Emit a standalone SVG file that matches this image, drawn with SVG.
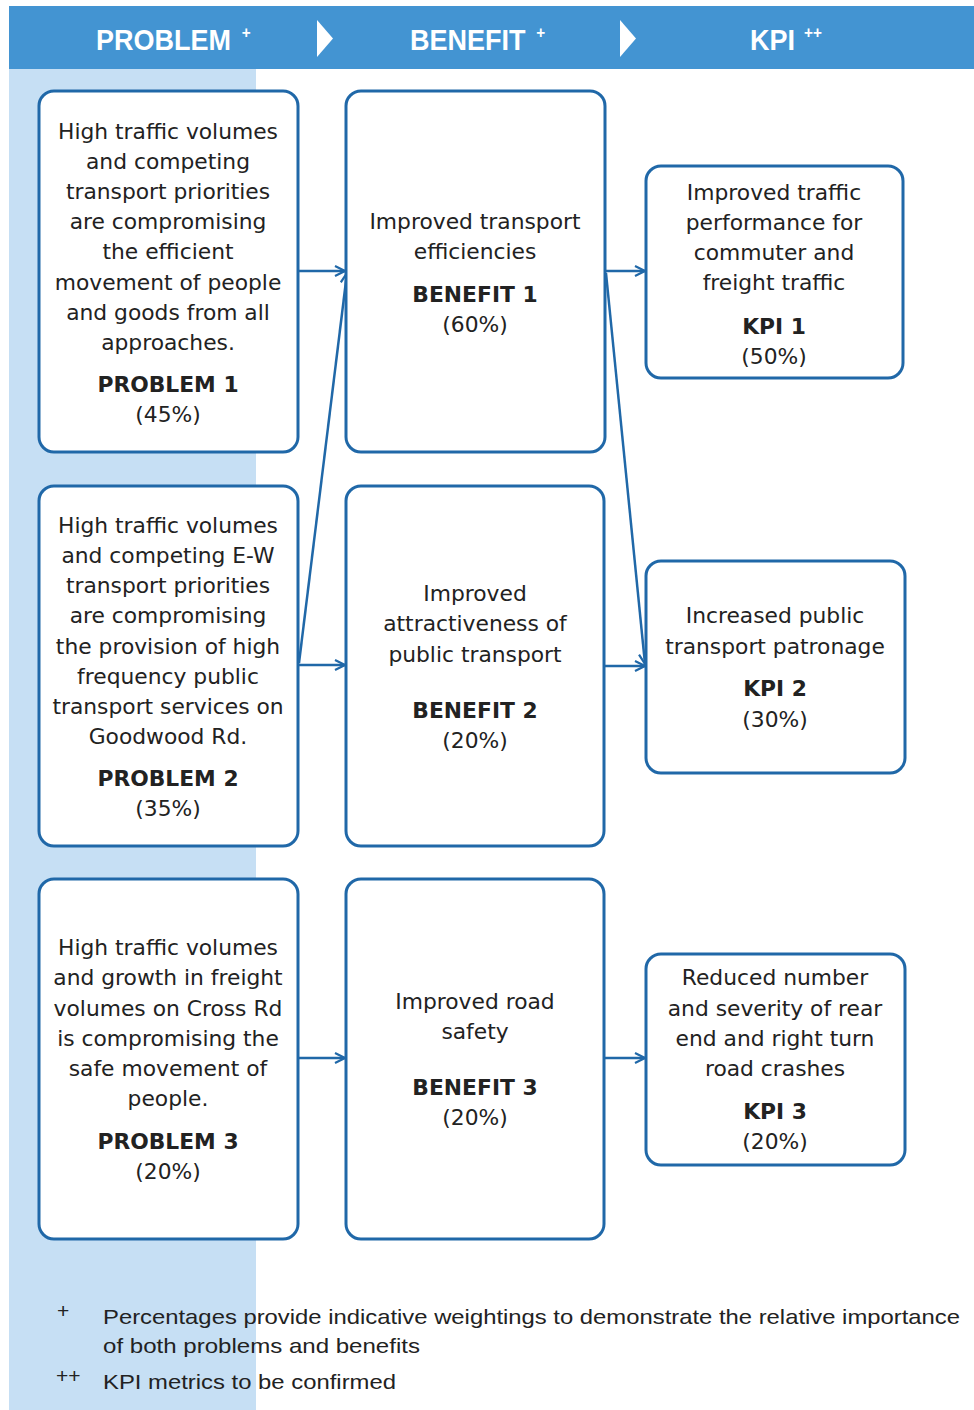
<svg xmlns="http://www.w3.org/2000/svg" width="974" height="1410" viewBox="0 0 974 1410">
<defs>
<style>
.box{fill:#fff;stroke:#2068a8;stroke-width:3}
.t{font-family:"DejaVu Sans",Verdana,sans-serif;font-size:21.8px;fill:#222;text-anchor:middle}
.b{font-weight:bold}
.hd{font-family:"Liberation Sans",Arial,sans-serif;font-weight:bold;font-size:30px;fill:#fff}
.sup{font-size:17px}
.fn{font-family:"Liberation Sans",Arial,sans-serif;font-size:21px;fill:#222}
.ln{stroke:#2068a8;stroke-width:2.5;fill:none}
</style>
<marker id="ah" viewBox="0 0 12 12" refX="11" refY="6" markerWidth="12" markerHeight="12" markerUnits="userSpaceOnUse" orient="auto">
<path d="M1,1 L11,6 L1,11" fill="none" stroke="#2068a8" stroke-width="2.2"/>
</marker>
</defs>
<rect x="0" y="0" width="974" height="1410" fill="#fff"/>
<rect x="9" y="69" width="247" height="1341" fill="#c6dff4"/>
<g id="header">
<rect x="9" y="6" width="965" height="63" fill="#4394d2"/>
<polygon points="317,20 333,38.5 317,57" fill="#fff"/>
<polygon points="620,20 636,38.5 620,57" fill="#fff"/>
<text class="hd" transform="translate(96,50) scale(0.9,1)">PROBLEM<tspan class="sup" dx="12" dy="-12">+</tspan></text>
<text class="hd" transform="translate(410,50) scale(0.9,1)">BENEFIT<tspan class="sup" dx="12" dy="-12">+</tspan></text>
<text class="hd" transform="translate(750,50) scale(0.9,1)">KPI<tspan class="sup" dx="10" dy="-12">++</tspan></text>
</g>
<g id="connectors">
<line class="ln" x1="299" y1="271" x2="345" y2="271" marker-end="url(#ah)"/>
<line class="ln" x1="299" y1="663" x2="347" y2="273" marker-end="url(#ah)"/>
<line class="ln" x1="299" y1="665" x2="345" y2="665" marker-end="url(#ah)"/>
<line class="ln" x1="299" y1="1058" x2="345" y2="1058" marker-end="url(#ah)"/>
<line class="ln" x1="606" y1="271" x2="645" y2="271" marker-end="url(#ah)"/>
<line class="ln" x1="606" y1="273" x2="645" y2="664" marker-end="url(#ah)"/>
<line class="ln" x1="605" y1="666" x2="645" y2="666" marker-end="url(#ah)"/>
<line class="ln" x1="605" y1="1058" x2="645" y2="1058" marker-end="url(#ah)"/>
</g>
<g id="problem1">
<rect class="box" x="39" y="91" width="259" height="361" rx="15"/>
<text class="t" x="168"><tspan x="168" y="139">High traffic volumes</tspan><tspan x="168" y="169">and competing</tspan><tspan x="168" y="199">transport priorities</tspan><tspan x="168" y="229">are compromising</tspan><tspan x="168" y="259">the efficient</tspan><tspan x="168" y="290">movement of people</tspan><tspan x="168" y="320">and goods from all</tspan><tspan x="168" y="350">approaches.</tspan><tspan class="b" x="168" y="392">PROBLEM 1</tspan><tspan x="168" y="422">(45%)</tspan></text>
</g>
<g id="problem2">
<rect class="box" x="39" y="486" width="259" height="360" rx="15"/>
<text class="t" x="168"><tspan x="168" y="533">High traffic volumes</tspan><tspan x="168" y="563">and competing E-W</tspan><tspan x="168" y="593">transport priorities</tspan><tspan x="168" y="623">are compromising</tspan><tspan x="168" y="654">the provision of high</tspan><tspan x="168" y="684">frequency public</tspan><tspan x="168" y="714">transport services on</tspan><tspan x="168" y="744">Goodwood Rd.</tspan><tspan class="b" x="168" y="786">PROBLEM 2</tspan><tspan x="168" y="816">(35%)</tspan></text>
</g>
<g id="problem3">
<rect class="box" x="39" y="879" width="259" height="360" rx="15"/>
<text class="t" x="168"><tspan x="168" y="955">High traffic volumes</tspan><tspan x="168" y="985">and growth in freight</tspan><tspan x="168" y="1016">volumes on Cross Rd</tspan><tspan x="168" y="1046">is compromising the</tspan><tspan x="168" y="1076">safe movement of</tspan><tspan x="168" y="1106">people.</tspan><tspan class="b" x="168" y="1149">PROBLEM 3</tspan><tspan x="168" y="1179">(20%)</tspan></text>
</g>
<g id="benefit1">
<rect class="box" x="346" y="91" width="259" height="361" rx="15"/>
<text class="t" x="475"><tspan x="475" y="229">Improved transport</tspan><tspan x="475" y="259">efficiencies</tspan><tspan class="b" x="475" y="302">BENEFIT 1</tspan><tspan x="475" y="332">(60%)</tspan></text>
</g>
<g id="benefit2">
<rect class="box" x="346" y="486" width="258" height="360" rx="15"/>
<text class="t" x="475"><tspan x="475" y="601">Improved</tspan><tspan x="475" y="631">attractiveness of</tspan><tspan x="475" y="662">public transport</tspan><tspan class="b" x="475" y="718">BENEFIT 2</tspan><tspan x="475" y="748">(20%)</tspan></text>
</g>
<g id="benefit3">
<rect class="box" x="346" y="879" width="258" height="360" rx="15"/>
<text class="t" x="475"><tspan x="475" y="1009">Improved road</tspan><tspan x="475" y="1039">safety</tspan><tspan class="b" x="475" y="1095">BENEFIT 3</tspan><tspan x="475" y="1125">(20%)</tspan></text>
</g>
<g id="kpi1">
<rect class="box" x="646" y="166" width="257" height="212" rx="15"/>
<text class="t" x="774"><tspan x="774" y="200">Improved traffic</tspan><tspan x="774" y="230">performance for</tspan><tspan x="774" y="260">commuter and</tspan><tspan x="774" y="290">freight traffic</tspan><tspan class="b" x="774" y="334">KPI 1</tspan><tspan x="774" y="364">(50%)</tspan></text>
</g>
<g id="kpi2">
<rect class="box" x="646" y="561" width="259" height="212" rx="15"/>
<text class="t" x="775"><tspan x="775" y="623">Increased public</tspan><tspan x="775" y="654">transport patronage</tspan><tspan class="b" x="775" y="696">KPI 2</tspan><tspan x="775" y="727">(30%)</tspan></text>
</g>
<g id="kpi3">
<rect class="box" x="646" y="954" width="259" height="211" rx="15"/>
<text class="t" x="775"><tspan x="775" y="985">Reduced number</tspan><tspan x="775" y="1016">and severity of rear</tspan><tspan x="775" y="1046">end and right turn</tspan><tspan x="775" y="1076">road crashes</tspan><tspan class="b" x="775" y="1119">KPI 3</tspan><tspan x="775" y="1149">(20%)</tspan></text>
</g>
<g id="footnotes">
<text class="fn" x="57" y="1318" font-size="15">+</text>
<text class="fn" x="103" y="1324" textLength="857" lengthAdjust="spacingAndGlyphs">Percentages provide indicative weightings to demonstrate the relative importance</text>
<text class="fn" x="103" y="1353" textLength="317" lengthAdjust="spacingAndGlyphs">of both problems and benefits</text>
<text class="fn" x="56" y="1383" font-size="15">++</text>
<text class="fn" x="103" y="1389" textLength="293" lengthAdjust="spacingAndGlyphs">KPI metrics to be confirmed</text>
</g>
</svg>
